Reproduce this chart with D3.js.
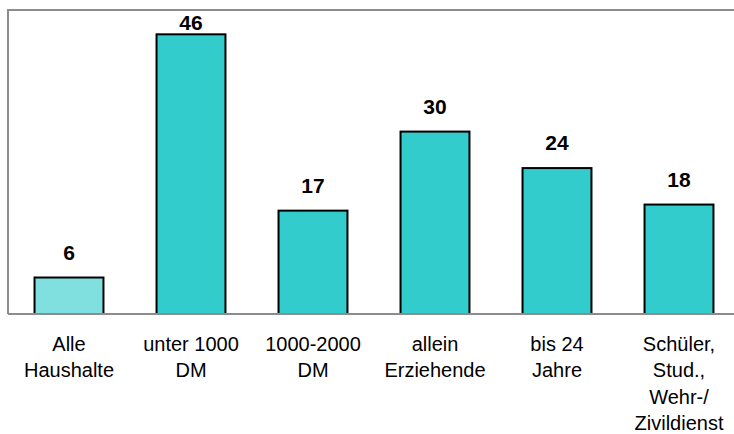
<!DOCTYPE html>
<html>
<head>
<meta charset="utf-8">
<script src="https://cdn.jsdelivr.net/npm/d3@7"></script>
<style>
  html, body { margin: 0; padding: 0; background: #fff; }
  svg { display: block; }
  text { font-family: Arial, "Liberation Sans", sans-serif; }
</style>
</head>
<body>
<svg id="chart" width="734" height="434"></svg>
<script>
// Haushaltsgruppen and their values (%)
const categories = [
  ["Alle", "Haushalte"],
  ["unter 1000", "DM"],
  ["1000-2000", "DM"],
  ["allein", "Erziehende"],
  ["bis 24", "Jahre"],
  ["Schüler,", "Stud.,", "Wehr-/", "Zivildienst"]
];
const values = [6, 46, 17, 30, 24, 18];
const highlight = [true, false, false, false, false, false];

const svg = d3.select("#chart");
const plotLeft = 8, plotRight = 740, plotTop = 10, plotBottom = 314;

const x = d3.scaleBand()
  .domain(d3.range(values.length))
  .range([plotLeft, plotRight])
  .paddingInner(0.435)
  .paddingOuter(0.2175);

const y = d3.scaleLinear().domain([0, 50]).range([plotBottom, plotTop]);

// plot frame (left and top edges)
svg.append("path")
  .attr("d", `M${plotLeft},${plotBottom} L${plotLeft},${plotTop} L${734},${plotTop}`)
  .attr("fill", "none")
  .attr("stroke", "#8c8c8c")
  .attr("stroke-width", 2);

svg.append("g")
  .selectAll("rect")
  .data(values)
  .join("rect")
  .attr("x", (d, i) => x(i))
  .attr("y", d => y(d))
  .attr("width", x.bandwidth())
  .attr("height", d => y(0) - y(d))
  .attr("fill", (d, i) => highlight[i] ? "#80dfdf" : "#33cccc")
  .attr("stroke", "#000")
  .attr("stroke-width", 2);

// baseline
svg.append("line")
  .attr("x1", plotLeft).attr("x2", 734)
  .attr("y1", plotBottom).attr("y2", plotBottom)
  .attr("stroke", "#8c8c8c")
  .attr("stroke-width", 2);

// value labels above bars
svg.append("g")
  .selectAll("text")
  .data(values)
  .join("text")
  .attr("x", (d, i) => x(i) + x.bandwidth() / 2)
  .attr("y", d => Math.max(y(d) - 18, 30))
  .attr("text-anchor", "middle")
  .attr("font-size", 21)
  .attr("font-weight", "bold")
  .attr("fill", "#000")
  .text(d => d);

// category labels
const cat = svg.append("g")
  .selectAll("text")
  .data(categories)
  .join("text")
  .attr("x", (d, i) => x(i) + x.bandwidth() / 2)
  .attr("y", 351)
  .attr("text-anchor", "middle")
  .attr("font-size", 20)
  .attr("fill", "#000");

cat.selectAll("tspan")
  .data(d => d)
  .join("tspan")
  .attr("x", function () { return d3.select(this.parentNode).attr("x"); })
  .attr("dy", (d, j) => j === 0 ? 0 : 26.3)
  .text(d => d);
</script>
</body>
</html>
